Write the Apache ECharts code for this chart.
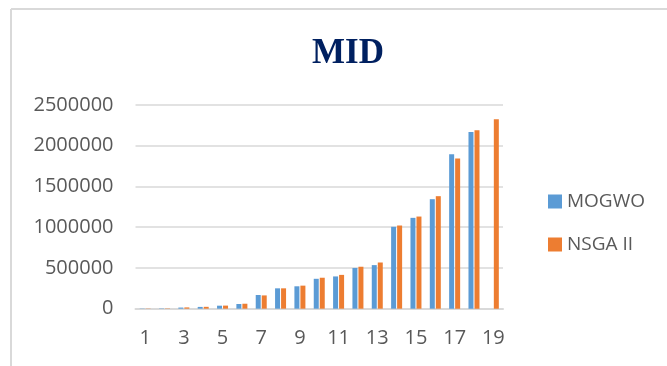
<!DOCTYPE html>
<html>
<head>
<meta charset="utf-8">
<script src="https://cdn.jsdelivr.net/npm/echarts@6/dist/echarts.min.js"></script>
<style>
  html, body { margin: 0; padding: 0; background: #ffffff; }
  #chart { width: 667px; height: 366px; }
</style>
</head>
<body>
<div id="chart"></div>
<script>
// Instance indices 1..19
const categories = ['1','2','3','4','5','6','7','8','9','10','11','12','13','14','15','16','17','18','19'];
// MID values per instance for each algorithm
const mogwo = [3000, 4000, 14000, 22000, 37000, 58000, 168000, 250000, 275000, 367000, 396000, 500000, 535000, 1005000, 1115000, 1344000, 1896000, 2169000, null];
const nsga2 = [3000, 4000, 16000, 23000, 38000, 61000, 163000, 250000, 283000, 380000, 415000, 515000, 567000, 1021000, 1131000, 1381000, 1842000, 2190000, 2325000];
const yMax = 2500000;
const yStep = 500000;

const labelFont = '"Open Sans", "Liberation Sans", sans-serif';
const chart = echarts.init(document.getElementById('chart'), null, { renderer: 'canvas' });

chart.setOption({
  animation: false,
  backgroundColor: '#ffffff',
  title: {
    text: 'MID',
    left: 307,
    top: 31,
    textStyle: {
      fontFamily: '"Liberation Serif", "Times New Roman", serif',
      fontWeight: 'bold',
      fontSize: 35,
      color: '#002060'
    }
  },
  legend: {
    orient: 'vertical',
    left: 543,
    top: 187,
    itemWidth: 14,
    itemHeight: 14,
    itemGap: 24,
    icon: 'rect',
    textStyle: { fontFamily: labelFont, fontSize: 19, color: '#595959' },
    data: ['MOGWO', 'NSGA II']
  },
  grid: { left: 135.5, right: 164, top: 105, bottom: 57.3, containLabel: false },
  xAxis: {
    type: 'category',
    data: categories,
    axisLine: { show: true, lineStyle: { color: '#d9d9d9', width: 2 } },
    axisTick: { show: false },
    axisLabel: { interval: 1, margin: 20, fontFamily: labelFont, fontSize: 20, color: '#595959' }
  },
  yAxis: {
    type: 'value',
    min: 0,
    max: yMax,
    interval: yStep,
    axisLine: { show: false },
    axisTick: { show: false },
    splitLine: { lineStyle: { color: '#d9d9d9', width: 1.5 } },
    axisLabel: {
      margin: 22,
      fontFamily: labelFont,
      fontSize: 20,
      color: '#595959',
      formatter: (v) => String(v)
    }
  },
  series: [
    { name: 'MOGWO', type: 'bar', data: mogwo, barWidth: 5, barGap: '20%', itemStyle: { color: '#5B9BD5' } },
    { name: 'NSGA II', type: 'bar', data: nsga2, barWidth: 5, barGap: '20%', itemStyle: { color: '#ED7D31' } }
  ],
  graphic: [
    { type: 'line', shape: { x1: 11, y1: 9, x2: 667, y2: 9 }, style: { stroke: '#d9d9d9', lineWidth: 2 } },
    { type: 'line', shape: { x1: 11, y1: 9, x2: 11, y2: 366 }, style: { stroke: '#d9d9d9', lineWidth: 2 } }
  ]
});
</script>
</body>
</html>
